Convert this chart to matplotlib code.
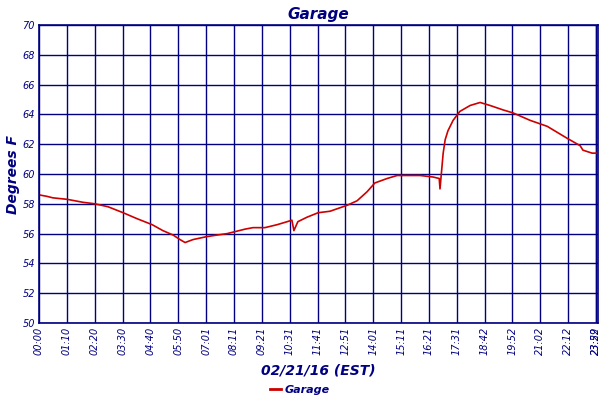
import matplotlib
matplotlib.use('Agg')
import matplotlib.pyplot as plt
from matplotlib.lines import Line2D

# minutes after midnight and temperature (deg F)
minutos = [0, 20, 35, 71, 111, 141, 174, 212, 247, 285, 312, 338, 355, 368,
           388, 423, 448, 474, 489, 519, 539, 569, 600, 625, 637, 642, 652,
           675, 703, 733, 776, 801, 826, 846, 877, 902, 960, 992, 1008, 1010,
           1018, 1023, 1030, 1043, 1060, 1086, 1111, 1136, 1169, 1194, 1237,
           1280, 1330, 1363, 1370, 1393, 1403]
temps = [58.6, 58.5, 58.4, 58.3, 58.1, 58.0, 57.8, 57.4, 57.0, 56.6, 56.2,
         55.9, 55.6, 55.4, 55.6, 55.8, 55.9, 56.0, 56.1, 56.3, 56.4, 56.4,
         56.6, 56.8, 56.9, 56.2, 56.8, 57.1, 57.4, 57.5, 57.9, 58.2, 58.8,
         59.4, 59.7, 59.9, 59.9, 59.8, 59.7, 59.0, 61.4, 62.3, 62.9, 63.6,
         64.2, 64.6, 64.8, 64.6, 64.3, 64.1, 63.6, 63.2, 62.4, 61.9, 61.6,
         61.4, 61.4]

rotulos = ['00:00', '01:10', '02:20', '03:30', '04:40', '05:50', '07:01',
           '08:11', '09:21', '10:31', '11:41', '12:51', '14:01', '15:11',
           '16:21', '17:31', '18:42', '19:52', '21:02', '22:12', '23:22']
passo = 70.15
fim = 1408

azul = '#000080'
vermelho = '#cc0000'

fig = plt.figure(figsize=(6, 4), dpi=100)
ax = fig.add_axes([0.065, 0.1925, 0.9317, 0.745])

ax.plot(minutos, temps, color=vermelho, lw=1.2)

ax.set_xlim(0, fim)
ax.set_ylim(50, 70)
ax.set_yticks(range(50, 71, 2))
posicoes = [i * passo for i in range(len(rotulos))]
ax.set_xticks(posicoes + [posicoes[-1] + 0.5])
ax.set_xticklabels(rotulos + ['23:59'], rotation=90, fontsize=7,
                   fontstyle='italic', color=azul)
for t in ax.get_yticklabels():
    t.set_fontsize(7)
    t.set_fontstyle('italic')
    t.set_color(azul)
ax.tick_params(length=0, pad=3)

ax.grid(True, color=azul, lw=1)
for s in ax.spines.values():
    s.set_color(azul)
    s.set_linewidth(1.2)

ax.set_title('Garage', fontsize=11, fontstyle='italic', fontweight='bold',
             color=azul, pad=4)
ax.set_ylabel('Degrees F', fontsize=10, fontstyle='italic',
              fontweight='bold', color=azul, labelpad=2)
ax.set_xlabel('02/21/16 (EST)', fontsize=10, fontstyle='italic',
              fontweight='bold', color=azul, labelpad=6)

linha = Line2D([], [], color=vermelho, lw=2)
fig.legend([linha], ['Garage'], loc='center', bbox_to_anchor=(0.5, 0.025),
           frameon=False, handlelength=1.0, handletextpad=0.3,
           prop={'size': 8, 'style': 'italic', 'weight': 'bold'},
           labelcolor=azul)

fig.savefig('out.png', dpi=100)
